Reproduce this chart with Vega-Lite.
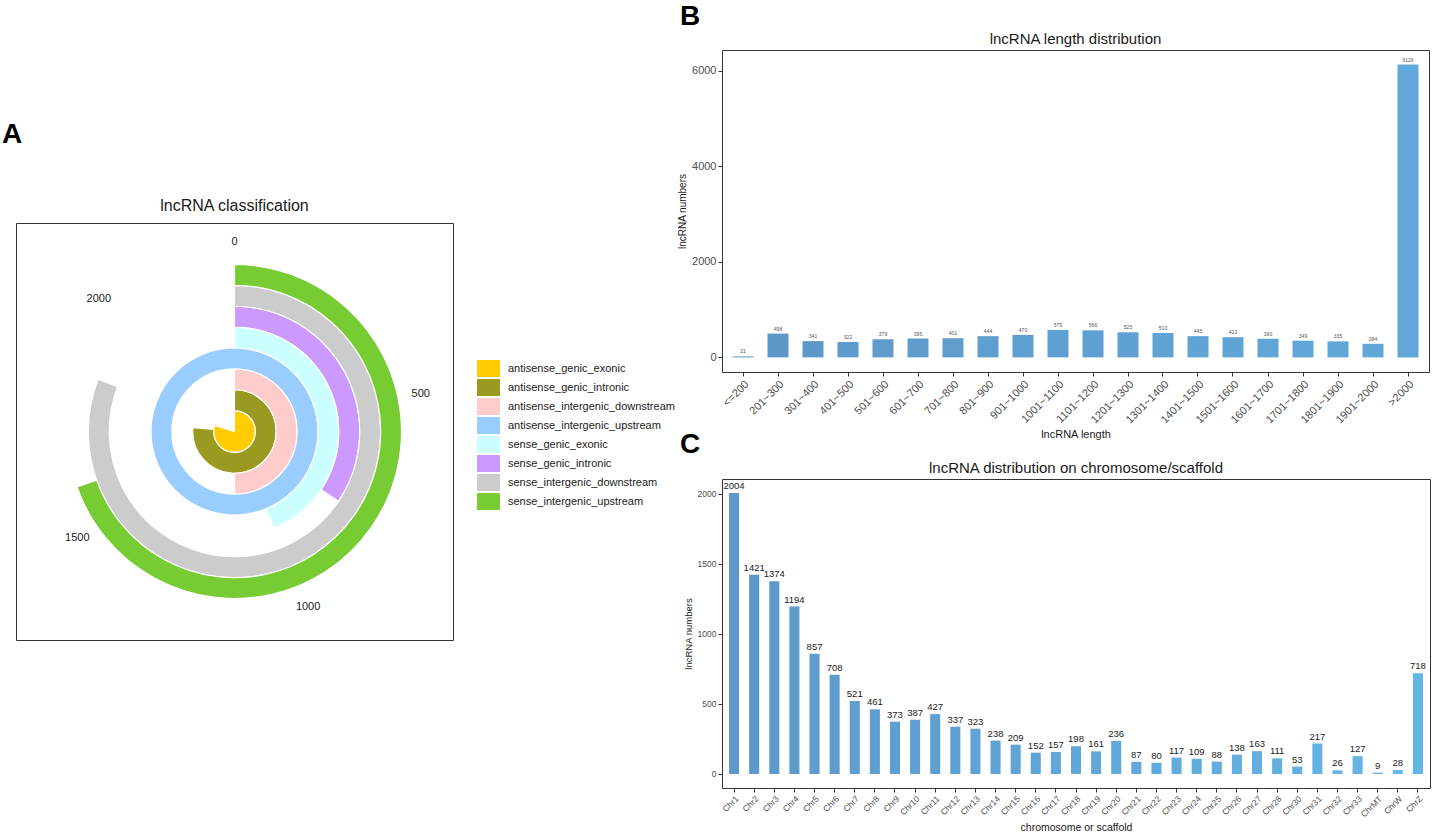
{
  "$schema": "https://vega.github.io/schema/vega-lite/v6.json",
  "padding": {"left": 2, "top": 0, "right": 2, "bottom": 0},
  "background": "white",
  "config": {
    "font": "Liberation Sans",
    "view": {"stroke": "#333333", "strokeWidth": 1},
    "axis": {"grid": false, "domain": false, "tickColor": "#333333", "tickSize": 4, "labelColor": "#4d4d4d", "labelPadding": 2, "titleFontWeight": "normal", "titleColor": "#1a1a1a", "titlePadding": 4},
    "title": {"fontWeight": "normal", "color": "#1a1a1a"}
  },
  "spacing": 2,
  "hconcat": [
    {
      "bounds": "flush",
      "spacing": 105,
      "vconcat": [
        {
          "width": 1, "height": 118,
          "view": {"stroke": null, "fill": null},
          "title": {"text": "A", "orient": "bottom", "anchor": "start", "frame": "group", "offset": 3, "dx": -14, "fontSize": 28, "fontWeight": "bold", "color": "#000000", "baseline": "top"},
          "data": {"values": [{}]},
          "mark": {"type": "rect", "opacity": 0}
        },
        {
          "width": 437, "height": 417,
          "view": {"stroke": "#333333", "strokeWidth": 1},
          "title": {"text": "lncRNA classification", "fontSize": 16, "offset": 6.5},
          "layer": [
            {
              "data": {"values": [{}]},
              "mark": {"type": "point", "opacity": 0},
              "encoding": {
                "x": {"datum": 0, "type": "quantitative", "axis": null},
                "y": {"datum": 0, "type": "quantitative", "axis": null}
              }
            },
            {
              "data": {"values": [
                {"category": "antisense_genic_exonic", "value": 1824},
                {"category": "antisense_genic_intronic", "value": 1752},
                {"category": "antisense_intergenic_downstream", "value": 1145},
                {"category": "antisense_intergenic_upstream", "value": 2290},
                {"category": "sense_genic_exonic", "value": 1004},
                {"category": "sense_genic_intronic", "value": 788},
                {"category": "sense_intergenic_downstream", "value": 1851},
                {"category": "sense_intergenic_upstream", "value": 1594}
              ]},
              "mark": {"type": "arc", "stroke": "white", "strokeWidth": 1.2},
              "encoding": {
                "theta": {"field": "value", "type": "quantitative", "stack": false, "scale": {"domain": [0, 2290], "nice": false, "zero": true}},
                "radius": {"field": "category", "type": "nominal", "scale": {"type": "band", "domain": ["antisense_genic_exonic", "antisense_genic_intronic", "antisense_intergenic_downstream", "antisense_intergenic_upstream", "sense_genic_exonic", "sense_genic_intronic", "sense_intergenic_downstream", "sense_intergenic_upstream"], "range": [0, 167], "paddingInner": 0, "paddingOuter": 0}},
                "color": {"field": "category", "type": "nominal",
                  "scale": {"domain": ["antisense_genic_exonic", "antisense_genic_intronic", "antisense_intergenic_downstream", "antisense_intergenic_upstream", "sense_genic_exonic", "sense_genic_intronic", "sense_intergenic_downstream", "sense_intergenic_upstream"],
                            "range": ["#FFCC00", "#999A1F", "#FFCCCC", "#99CCFF", "#CCFFFF", "#CC99FF", "#CCCCCC", "#77CC33"]},
                  "legend": {"orient": "none", "legendX": 464, "legendY": 360, "title": null, "symbolType": "M-1.35,-1H1.35V1H-1.35Z", "symbolSize": 289, "symbolStrokeWidth": 0, "symbolOpacity": 1, "labelFontSize": 11, "labelOffset": 11, "rowPadding": 2, "labelLimit": 300, "labelColor": "#1a1a1a"}
                }
              }
            },
            {
              "data": {"values": [{"tick": 0}, {"tick": 500}, {"tick": 1000}, {"tick": 1500}, {"tick": 2000}]},
              "mark": {"type": "text", "fontSize": 11, "color": "#1a1a1a"},
              "encoding": {
                "theta": {"field": "tick", "type": "quantitative", "stack": false, "scale": {"domain": [0, 2290], "nice": false, "zero": true}},
                "radius": {"value": 190},
                "text": {"field": "tick", "type": "quantitative"}
              }
            }
          ]
        }
      ]
    },
    {
      "bounds": "flush",
      "spacing": 49,
      "vconcat": [
        {
          "width": 1, "height": 1,
          "view": {"stroke": null, "fill": null},
          "title": {"text": "B", "orient": "bottom", "anchor": "start", "frame": "group", "offset": 2, "dx": -42, "fontSize": 28, "fontWeight": "bold", "color": "#000000", "baseline": "top"},
          "data": {"values": [{}]},
          "mark": {"type": "rect", "opacity": 0}
        },
        {
          "width": 707, "height": 322,
          "title": {"text": "lncRNA length distribution", "fontSize": 15, "offset": 3.5},
          "data": {"values": [
            {"length": "<=200", "count": 21},
            {"length": "201~300", "count": 498},
            {"length": "301~400", "count": 341},
            {"length": "401~500", "count": 322},
            {"length": "501~600", "count": 379},
            {"length": "601~700", "count": 395},
            {"length": "701~800", "count": 401},
            {"length": "801~900", "count": 444},
            {"length": "901~1000", "count": 470},
            {"length": "1001~1100", "count": 575},
            {"length": "1101~1200", "count": 566},
            {"length": "1201~1300", "count": 525},
            {"length": "1301~1400", "count": 510},
            {"length": "1401~1500", "count": 445},
            {"length": "1501~1600", "count": 422},
            {"length": "1601~1700", "count": 390},
            {"length": "1701~1800", "count": 349},
            {"length": "1801~1900", "count": 335},
            {"length": "1901~2000", "count": 284},
            {"length": ">2000", "count": 6126}
          ]},
          "transform": [{"window": [{"op": "row_number", "as": "order"}]}],
          "encoding": {
            "x": {"field": "length", "type": "nominal", "sort": null, "scale": {"paddingInner": 0.4, "paddingOuter": 0.3},
                  "axis": {"title": "lncRNA length", "labelAngle": -45, "labelFontSize": 11, "titleFontSize": 11}},
            "y": {"field": "count", "type": "quantitative", "scale": {"domain": [-306, 6432], "nice": false, "zero": false},
                  "axis": {"title": "lncRNA numbers", "values": [0, 2000, 4000, 6000], "format": "d", "labelFontSize": 11, "titleFontSize": 10}}
          },
          "layer": [
            {
              "mark": {"type": "bar"},
              "encoding": {"color": {"field": "order", "type": "quantitative", "scale": {"range": ["#5E97CA", "#63B7E6"]}, "legend": null}}
            },
            {
              "mark": {"type": "text", "baseline": "bottom", "dy": -2, "fontSize": 5, "color": "#555555"},
              "encoding": {"text": {"field": "count", "type": "quantitative"}}
            }
          ]
        },
        {
          "width": 1, "height": 9,
          "view": {"stroke": null, "fill": null},
          "title": {"text": "C", "orient": "bottom", "anchor": "start", "frame": "group", "offset": 1, "dx": -42, "fontSize": 28, "fontWeight": "bold", "color": "#000000", "baseline": "top"},
          "data": {"values": [{}]},
          "mark": {"type": "rect", "opacity": 0}
        },
        {
          "width": 708, "height": 309,
          "title": {"text": "lncRNA distribution on chromosome/scaffold", "fontSize": 15, "offset": 3},
          "data": {"values": [
            {"chr": "Chr1", "count": 2004}, {"chr": "Chr2", "count": 1421}, {"chr": "Chr3", "count": 1374},
            {"chr": "Chr4", "count": 1194}, {"chr": "Chr5", "count": 857}, {"chr": "Chr6", "count": 708},
            {"chr": "Chr7", "count": 521}, {"chr": "Chr8", "count": 461}, {"chr": "Chr9", "count": 373},
            {"chr": "Chr10", "count": 387}, {"chr": "Chr11", "count": 427}, {"chr": "Chr12", "count": 337},
            {"chr": "Chr13", "count": 323}, {"chr": "Chr14", "count": 238}, {"chr": "Chr15", "count": 209},
            {"chr": "Chr16", "count": 152}, {"chr": "Chr17", "count": 157}, {"chr": "Chr18", "count": 198},
            {"chr": "Chr19", "count": 161}, {"chr": "Chr20", "count": 236}, {"chr": "Chr21", "count": 87},
            {"chr": "Chr22", "count": 80}, {"chr": "Chr23", "count": 117}, {"chr": "Chr24", "count": 109},
            {"chr": "Chr25", "count": 88}, {"chr": "Chr26", "count": 138}, {"chr": "Chr27", "count": 163},
            {"chr": "Chr28", "count": 111}, {"chr": "Chr30", "count": 53}, {"chr": "Chr31", "count": 217},
            {"chr": "Chr32", "count": 26}, {"chr": "Chr33", "count": 127}, {"chr": "ChrMT", "count": 9},
            {"chr": "ChrW", "count": 28}, {"chr": "ChrZ", "count": 718}
          ]},
          "transform": [{"window": [{"op": "row_number", "as": "order"}]}],
          "encoding": {
            "x": {"field": "chr", "type": "nominal", "sort": null, "scale": {"paddingInner": 0.5, "paddingOuter": 0.35},
                  "axis": {"title": "chromosome or scaffold", "labelAngle": -45, "labelFontSize": 8.5, "titleFontSize": 10.5}},
            "y": {"field": "count", "type": "quantitative", "scale": {"domain": [-100, 2104], "nice": false, "zero": false},
                  "axis": {"title": "lncRNA numbers", "values": [0, 500, 1000, 1500, 2000], "format": "d", "labelFontSize": 8.5, "titleFontSize": 9.5}}
          },
          "layer": [
            {
              "mark": {"type": "bar"},
              "encoding": {"color": {"field": "order", "type": "quantitative", "scale": {"range": ["#5E97CA", "#5FC6F4"]}, "legend": null}}
            },
            {
              "mark": {"type": "text", "baseline": "bottom", "dy": -2, "fontSize": 9.5, "color": "#1a1a1a"},
              "encoding": {"text": {"field": "count", "type": "quantitative"}}
            }
          ]
        }
      ]
    }
  ]
}
